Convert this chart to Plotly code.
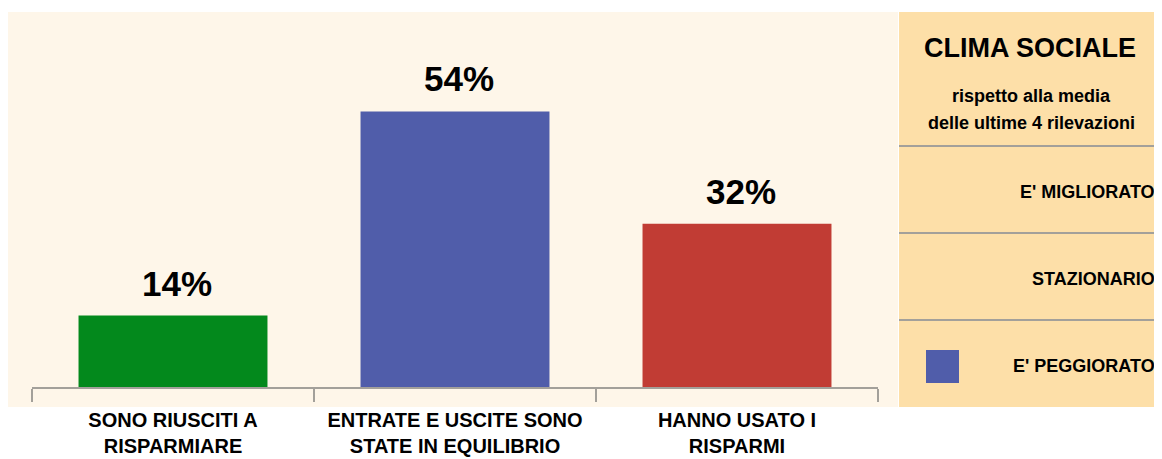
import plotly.graph_objects as go

categories = ["SONO RIUSCITI A<br>RISPARMIARE", "ENTRATE E USCITE SONO<br>STATE IN EQUILIBRIO", "HANNO USATO I<br>RISPARMI"]
values = [14, 54, 32]
bar_colors = ["#03891C", "#505DAA", "#C13C34"]
panel_title = "CLIMA SOCIALE"
panel_subtitle = ["rispetto alla media", "delle ultime 4 rilevazioni"]
panel_items = ["E' MIGLIORATO", "STAZIONARIO", "E' PEGGIORATO"]
current_state = "E' PEGGIORATO"

W, H = 1162, 459
OFF = 8  # page body margin
FONT = "Liberation Sans, Arial, sans-serif"

def px(x):
    return (x - OFF) / W

def py(y):
    return (H - (y - OFF)) / H

fig = go.Figure()
fig.add_trace(go.Bar(
    x=categories, y=values,
    marker=dict(color=bar_colors, line=dict(width=0)),
    hoverinfo="skip",
))

shapes = []
# cream chart background
shapes.append(dict(type="rect", xref="paper", yref="paper", x0=px(7), x1=px(898), y0=py(407), y1=py(12),
                   fillcolor="#FEF6E9", line=dict(width=0), layer="below"))
# right panel
shapes.append(dict(type="rect", xref="paper", yref="paper", x0=px(899), x1=px(1160), y0=py(407), y1=py(12),
                   fillcolor="#FDDFA8", line=dict(width=0), layer="below"))
for yy in [146, 233, 320]:
    shapes.append(dict(type="line", xref="paper", yref="paper", x0=px(899), x1=px(1160), y0=py(yy), y1=py(yy),
                       line=dict(color="#A3A09A", width=2)))

annotations = []
for c, v in zip(categories, values):
    annotations.append(dict(x=c, y=v, xref="x", yref="y", text=f"<b>{v}%</b>", showarrow=False,
                            xanchor="center", yanchor="bottom", yshift=11, xshift=4,
                            font=dict(family=FONT, size=35, color="black")))

annotations.append(dict(x=px(1030), y=py(48), xref="paper", yref="paper", text=f"<b>{panel_title}</b>",
                        showarrow=False, xanchor="center", yanchor="middle",
                        font=dict(family=FONT, size=27, color="black")))
for s, yy in zip(panel_subtitle, [96, 123]):
    annotations.append(dict(x=px(1031), y=py(yy), xref="paper", yref="paper", text=f"<b>{s}</b>",
                            showarrow=False, xanchor="center", yanchor="middle",
                            font=dict(family=FONT, size=18, color="black")))
item_y = [192, 279, 366]
for name, yy in zip(panel_items, item_y):
    annotations.append(dict(x=px(1157), y=py(yy), xref="paper", yref="paper", text=f"<b>{name}</b>",
                            showarrow=False, xanchor="right", yanchor="middle",
                            font=dict(family=FONT, size=18, color="black")))
    if name == current_state:
        shapes.append(dict(type="rect", xref="paper", yref="paper", x0=px(926), x1=px(959),
                           y0=py(yy + 17), y1=py(yy - 16), fillcolor="#505DAA", line=dict(width=0)))

fig.update_layout(
    width=W, height=H,
    margin=dict(l=0, r=0, t=0, b=0, autoexpand=False),
    paper_bgcolor="white", plot_bgcolor="rgba(0,0,0,0)",
    bargap=0.33,
    showlegend=False,
    shapes=shapes,
    annotations=annotations,
    xaxis=dict(domain=[px(32), px(878)], showline=True, linecolor="#A3A09A", linewidth=1.5,
               ticks="outside", tickson="boundaries", ticklen=13, tickcolor="#A3A09A", tickwidth=1.5,
               tickfont=dict(family=FONT, size=20, color="black"), showgrid=False, automargin=False,
               tickangle=0, ticklabelstandoff=14, tickprefix="<b>", ticksuffix="</b>", fixedrange=True),
    yaxis=dict(domain=[py(387), py(12)], range=[0, 73.5], visible=False, showgrid=False, fixedrange=True),
)

fig.write_html("out.html")
